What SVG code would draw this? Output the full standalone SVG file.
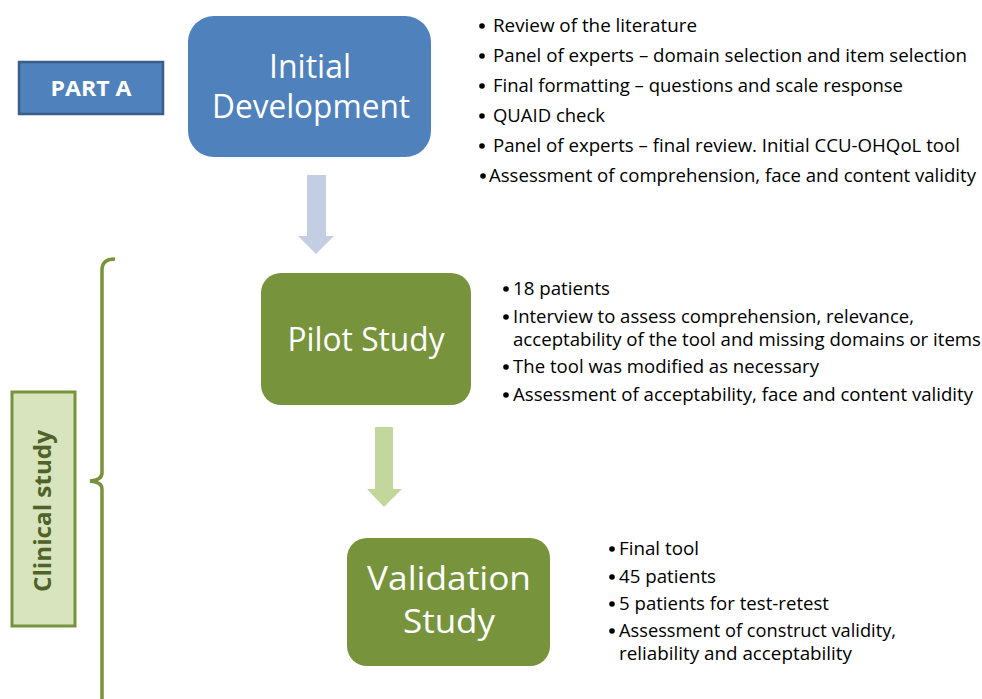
<svg xmlns="http://www.w3.org/2000/svg" width="982" height="699" viewBox="0 0 982 699">
<style>
.t{font-family:"Open Sans","Noto Sans","Liberation Sans",sans-serif;}
.title{font-size:32px;fill:#ffffff;text-anchor:middle;}
.b{font-size:18px;fill:#000000;}
.dot{fill:#000000;}
.blue{fill:#4f81bd;}
.green{fill:#77933c;}
</style>
<rect width="982" height="699" fill="#ffffff"/>

<g id="connectors">
  <path d="M307,175 H326 V236 H334 L316,254 L298,236 H307 Z" fill="#c3cee3"/>
  <path d="M375,427 H393 V489 H402 L384,507 L367,489 H375 Z" fill="#c3d69b"/>
</g>

<g id="partA">
  <rect x="19" y="62" width="144" height="52" class="blue" stroke="#385d8a" stroke-width="2.5"/>
  <text class="t" x="91" y="96" font-size="22" font-weight="bold" fill="#ffffff" text-anchor="middle" textLength="81" lengthAdjust="spacingAndGlyphs">PART A</text>
</g>

<g id="initial">
  <rect x="188" y="16" width="243" height="141" rx="26" class="blue"/>
  <text class="t title" x="310" y="78" textLength="82" lengthAdjust="spacingAndGlyphs">Initial</text>
  <text class="t title" x="311" y="118" textLength="198" lengthAdjust="spacingAndGlyphs">Development</text>
</g>

<g id="initialNotes">
  <circle class="dot" cx="482" cy="26" r="2.8"/>
  <text class="t b" x="493" y="32" textLength="204" lengthAdjust="spacingAndGlyphs">Review of the literature</text>
  <circle class="dot" cx="482" cy="56" r="2.8"/>
  <text class="t b" x="493" y="62" textLength="474" lengthAdjust="spacingAndGlyphs">Panel of experts – domain selection and item selection</text>
  <circle class="dot" cx="482" cy="86" r="2.8"/>
  <text class="t b" x="493" y="92" textLength="410" lengthAdjust="spacingAndGlyphs">Final formatting – questions and scale response</text>
  <circle class="dot" cx="482" cy="116" r="2.8"/>
  <text class="t b" x="493" y="122" textLength="112" lengthAdjust="spacingAndGlyphs">QUAID check</text>
  <circle class="dot" cx="482" cy="146" r="2.8"/>
  <text class="t b" x="493" y="152" textLength="467" lengthAdjust="spacingAndGlyphs">Panel of experts – final review. Initial CCU-OHQoL tool</text>
  <circle class="dot" cx="483" cy="176" r="2.8"/>
  <text class="t b" x="489" y="182" textLength="487" lengthAdjust="spacingAndGlyphs">Assessment of comprehension, face and content validity</text>
</g>

<g id="clinicalBrace">
  <path d="M115,259 Q102,259 102,270 V473 Q102,480 90,481 Q102,482 102,489 V699" fill="none" stroke="#77933c" stroke-width="3.5"/>
</g>

<g id="clinical">
  <rect x="12" y="392" width="63" height="234" fill="#d7e4bd" stroke="#77933c" stroke-width="3"/>
  <text class="t" transform="translate(51,511) rotate(-90)" font-size="23" font-weight="bold" fill="#4f6228" text-anchor="middle" textLength="162" lengthAdjust="spacingAndGlyphs">Clinical study</text>
</g>

<g id="pilot">
  <rect x="261" y="273" width="210" height="132" rx="20" class="green"/>
  <text class="t title" x="366" y="351" textLength="157" lengthAdjust="spacingAndGlyphs">Pilot Study</text>
</g>

<g id="pilotNotes">
  <circle class="dot" cx="506" cy="289" r="2.8"/>
  <text class="t b" x="513" y="295" textLength="97" lengthAdjust="spacingAndGlyphs">18 patients</text>
  <circle class="dot" cx="506" cy="317" r="2.8"/>
  <text class="t b" x="513" y="323" textLength="401" lengthAdjust="spacingAndGlyphs">Interview to assess comprehension, relevance,</text>
  <text class="t b" x="513" y="346" textLength="468" lengthAdjust="spacingAndGlyphs">acceptability of the tool and missing domains or items</text>
  <circle class="dot" cx="506" cy="367" r="2.8"/>
  <text class="t b" x="513" y="373" textLength="306" lengthAdjust="spacingAndGlyphs">The tool was modified as necessary</text>
  <circle class="dot" cx="506" cy="395" r="2.8"/>
  <text class="t b" x="513" y="401" textLength="460" lengthAdjust="spacingAndGlyphs">Assessment of acceptability, face and content validity</text>
</g>

<g id="validation">
  <rect x="347" y="538" width="203" height="128" rx="20" class="green"/>
  <text class="t title" x="449" y="590" textLength="164" lengthAdjust="spacingAndGlyphs">Validation</text>
  <text class="t title" x="449" y="633" textLength="92" lengthAdjust="spacingAndGlyphs">Study</text>
</g>

<g id="validationNotes">
  <circle class="dot" cx="612" cy="549" r="2.8"/>
  <text class="t b" x="619" y="555" textLength="80" lengthAdjust="spacingAndGlyphs">Final tool</text>
  <circle class="dot" cx="612" cy="577" r="2.8"/>
  <text class="t b" x="619" y="583" textLength="97" lengthAdjust="spacingAndGlyphs">45 patients</text>
  <circle class="dot" cx="612" cy="604" r="2.8"/>
  <text class="t b" x="619" y="610" textLength="210" lengthAdjust="spacingAndGlyphs">5 patients for test-retest</text>
  <circle class="dot" cx="612" cy="631" r="2.8"/>
  <text class="t b" x="619" y="637" textLength="277" lengthAdjust="spacingAndGlyphs">Assessment of construct validity,</text>
  <text class="t b" x="619" y="660" textLength="233" lengthAdjust="spacingAndGlyphs">reliability and acceptability</text>
</g>
</svg>
